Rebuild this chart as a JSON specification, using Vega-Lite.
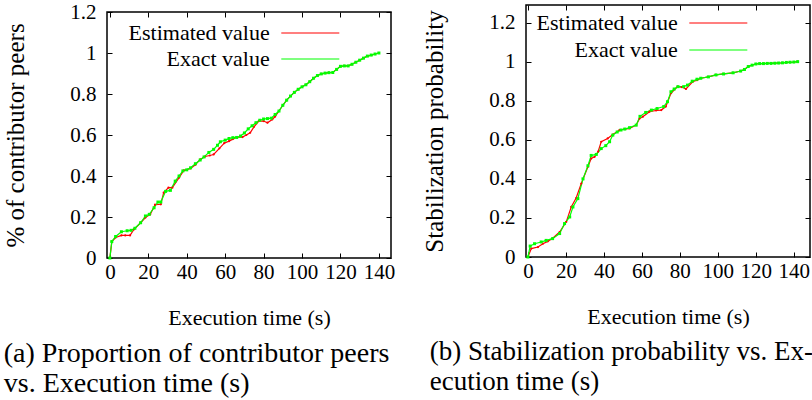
{
  "$schema": "https://vega.github.io/schema/vega-lite/v6.json",
  "background": "white",
  "padding": {"left": 3, "top": 0, "right": 0, "bottom": 0},
  "config": {
    "font": "Liberation Serif",
    "view": {"stroke": "black", "strokeWidth": 1.5},
    "axis": {
      "grid": false, "domain": false, "tickColor": "black", "tickSize": -5, "tickWidth": 1,
      "labelFontSize": 21, "labelColor": "black", "labelFont": "Liberation Serif",
      "titleFont": "Liberation Serif", "titleFontWeight": "normal", "titleColor": "black"
    },
    "axisX": {"titleFontSize": 22, "labelPadding": 8, "titlePadding": 25},
    "axisY": {"titleFontSize": 25, "labelPadding": 16, "titlePadding": 41},
    "legend": {"labelFont": "Liberation Serif", "labelColor": "black"},
    "title": {"font": "Liberation Serif"},
    "concat": {"spacing": 25}
  },
  "datasets": {
    "a": [
      {"s":"Estimated value","t":0,"v":0},{"s":"Estimated value","t":1,"v":0.08},{"s":"Estimated value","t":3,"v":0.1},{"s":"Estimated value","t":6,"v":0.11},{"s":"Estimated value","t":8,"v":0.11},{"s":"Estimated value","t":10.5,"v":0.11},{"s":"Estimated value","t":12.5,"v":0.139},{"s":"Estimated value","t":16,"v":0.172},{"s":"Estimated value","t":18.5,"v":0.197},{"s":"Estimated value","t":21,"v":0.213},{"s":"Estimated value","t":23.5,"v":0.26},{"s":"Estimated value","t":26.5,"v":0.262},{"s":"Estimated value","t":28,"v":0.319},{"s":"Estimated value","t":30.5,"v":0.343},{"s":"Estimated value","t":32.5,"v":0.343},{"s":"Estimated value","t":36,"v":0.392},{"s":"Estimated value","t":38.5,"v":0.427},{"s":"Estimated value","t":42,"v":0.437},{"s":"Estimated value","t":44.5,"v":0.455},{"s":"Estimated value","t":47,"v":0.481},{"s":"Estimated value","t":49.5,"v":0.495},{"s":"Estimated value","t":52,"v":0.5},{"s":"Estimated value","t":54,"v":0.505},{"s":"Estimated value","t":57,"v":0.535},{"s":"Estimated value","t":59.5,"v":0.56},{"s":"Estimated value","t":62,"v":0.57},{"s":"Estimated value","t":64,"v":0.58},{"s":"Estimated value","t":66,"v":0.59},{"s":"Estimated value","t":69,"v":0.59},{"s":"Estimated value","t":71,"v":0.6},{"s":"Estimated value","t":73,"v":0.611},{"s":"Estimated value","t":75,"v":0.64},{"s":"Estimated value","t":77.5,"v":0.668},{"s":"Estimated value","t":80,"v":0.668},{"s":"Estimated value","t":82,"v":0.66},{"s":"Estimated value","t":84.5,"v":0.676},{"s":"Estimated value","t":86,"v":0.69},{"s":"Estimated value","t":88,"v":0.717},{"s":"Estimated value","t":90,"v":0.745},{"s":"Estimated value","t":92,"v":0.77},{"s":"Estimated value","t":94,"v":0.79},{"s":"Estimated value","t":96,"v":0.808},{"s":"Estimated value","t":98,"v":0.823},{"s":"Estimated value","t":100,"v":0.835},{"s":"Estimated value","t":102,"v":0.845},{"s":"Estimated value","t":104,"v":0.86},{"s":"Estimated value","t":106,"v":0.877},{"s":"Estimated value","t":108,"v":0.89},{"s":"Estimated value","t":110,"v":0.898},{"s":"Estimated value","t":112,"v":0.902},{"s":"Estimated value","t":114,"v":0.904},{"s":"Estimated value","t":116,"v":0.905},{"s":"Estimated value","t":118,"v":0.92},{"s":"Estimated value","t":120,"v":0.935},{"s":"Estimated value","t":122,"v":0.937},{"s":"Estimated value","t":124,"v":0.937},{"s":"Estimated value","t":126,"v":0.945},{"s":"Estimated value","t":128,"v":0.955},{"s":"Estimated value","t":130,"v":0.965},{"s":"Estimated value","t":132,"v":0.975},{"s":"Estimated value","t":134,"v":0.985},{"s":"Estimated value","t":136,"v":0.99},{"s":"Estimated value","t":138,"v":0.995},{"s":"Estimated value","t":140,"v":1.0},
      {"s":"Exact value","t":0,"v":0},{"s":"Exact value","t":1,"v":0.08},{"s":"Exact value","t":3,"v":0.105},{"s":"Exact value","t":6,"v":0.128},{"s":"Exact value","t":9,"v":0.133},{"s":"Exact value","t":11,"v":0.135},{"s":"Exact value","t":13,"v":0.145},{"s":"Exact value","t":16,"v":0.172},{"s":"Exact value","t":18.5,"v":0.205},{"s":"Exact value","t":20.5,"v":0.213},{"s":"Exact value","t":23,"v":0.245},{"s":"Exact value","t":25,"v":0.273},{"s":"Exact value","t":26.5,"v":0.273},{"s":"Exact value","t":29,"v":0.325},{"s":"Exact value","t":31.5,"v":0.33},{"s":"Exact value","t":34,"v":0.375},{"s":"Exact value","t":36,"v":0.4},{"s":"Exact value","t":38,"v":0.425},{"s":"Exact value","t":40,"v":0.43},{"s":"Exact value","t":42,"v":0.44},{"s":"Exact value","t":44.5,"v":0.46},{"s":"Exact value","t":47,"v":0.478},{"s":"Exact value","t":49,"v":0.493},{"s":"Exact value","t":51.5,"v":0.515},{"s":"Exact value","t":54,"v":0.53},{"s":"Exact value","t":56,"v":0.55},{"s":"Exact value","t":57.5,"v":0.567},{"s":"Exact value","t":60,"v":0.575},{"s":"Exact value","t":62,"v":0.583},{"s":"Exact value","t":64,"v":0.587},{"s":"Exact value","t":66,"v":0.588},{"s":"Exact value","t":68,"v":0.595},{"s":"Exact value","t":70,"v":0.61},{"s":"Exact value","t":72,"v":0.63},{"s":"Exact value","t":74,"v":0.645},{"s":"Exact value","t":76,"v":0.66},{"s":"Exact value","t":78,"v":0.672},{"s":"Exact value","t":80,"v":0.678},{"s":"Exact value","t":82,"v":0.68},{"s":"Exact value","t":84,"v":0.682},{"s":"Exact value","t":86,"v":0.7},{"s":"Exact value","t":88,"v":0.717},{"s":"Exact value","t":90,"v":0.745},{"s":"Exact value","t":92,"v":0.77},{"s":"Exact value","t":94,"v":0.79},{"s":"Exact value","t":96,"v":0.808},{"s":"Exact value","t":98,"v":0.823},{"s":"Exact value","t":100,"v":0.835},{"s":"Exact value","t":102,"v":0.845},{"s":"Exact value","t":104,"v":0.86},{"s":"Exact value","t":106,"v":0.877},{"s":"Exact value","t":108,"v":0.89},{"s":"Exact value","t":110,"v":0.898},{"s":"Exact value","t":112,"v":0.902},{"s":"Exact value","t":114,"v":0.904},{"s":"Exact value","t":116,"v":0.905},{"s":"Exact value","t":118,"v":0.92},{"s":"Exact value","t":120,"v":0.935},{"s":"Exact value","t":122,"v":0.937},{"s":"Exact value","t":124,"v":0.937},{"s":"Exact value","t":126,"v":0.945},{"s":"Exact value","t":128,"v":0.955},{"s":"Exact value","t":130,"v":0.965},{"s":"Exact value","t":132,"v":0.975},{"s":"Exact value","t":134,"v":0.985},{"s":"Exact value","t":136,"v":0.99},{"s":"Exact value","t":138,"v":0.995},{"s":"Exact value","t":140,"v":1.0}
    ],
    "b": [
      {"s":"Estimated value","t":0,"v":0},{"s":"Estimated value","t":1.8,"v":0.043},{"s":"Estimated value","t":5.3,"v":0.051},{"s":"Estimated value","t":7.9,"v":0.068},{"s":"Estimated value","t":10.5,"v":0.08},{"s":"Estimated value","t":13.2,"v":0.097},{"s":"Estimated value","t":16.7,"v":0.128},{"s":"Estimated value","t":20.2,"v":0.18},{"s":"Estimated value","t":22.8,"v":0.256},{"s":"Estimated value","t":25.4,"v":0.302},{"s":"Estimated value","t":28.1,"v":0.376},{"s":"Estimated value","t":31.6,"v":0.462},{"s":"Estimated value","t":33.3,"v":0.504},{"s":"Estimated value","t":35.1,"v":0.513},{"s":"Estimated value","t":37,"v":0.54},{"s":"Estimated value","t":38.6,"v":0.59},{"s":"Estimated value","t":42,"v":0.607},{"s":"Estimated value","t":44.7,"v":0.627},{"s":"Estimated value","t":48.2,"v":0.65},{"s":"Estimated value","t":51,"v":0.655},{"s":"Estimated value","t":53.5,"v":0.658},{"s":"Estimated value","t":57,"v":0.675},{"s":"Estimated value","t":58.8,"v":0.709},{"s":"Estimated value","t":60.5,"v":0.718},{"s":"Estimated value","t":64,"v":0.744},{"s":"Estimated value","t":67.5,"v":0.75},{"s":"Estimated value","t":70.2,"v":0.752},{"s":"Estimated value","t":72.6,"v":0.77},{"s":"Estimated value","t":75.3,"v":0.838},{"s":"Estimated value","t":78.8,"v":0.872},{"s":"Estimated value","t":81,"v":0.87},{"s":"Estimated value","t":83.2,"v":0.86},{"s":"Estimated value","t":86.7,"v":0.897},{"s":"Estimated value","t":89,"v":0.905},{"s":"Estimated value","t":91,"v":0.915},{"s":"Estimated value","t":95,"v":0.922},{"s":"Estimated value","t":99,"v":0.932},{"s":"Estimated value","t":103,"v":0.937},{"s":"Estimated value","t":108,"v":0.943},{"s":"Estimated value","t":112,"v":0.952},{"s":"Estimated value","t":114,"v":0.96},{"s":"Estimated value","t":116,"v":0.975},{"s":"Estimated value","t":118,"v":0.982},{"s":"Estimated value","t":120,"v":0.988},{"s":"Estimated value","t":122,"v":0.99},{"s":"Estimated value","t":124,"v":0.99},{"s":"Estimated value","t":126,"v":0.991},{"s":"Estimated value","t":128,"v":0.991},{"s":"Estimated value","t":130,"v":0.992},{"s":"Estimated value","t":132,"v":0.993},{"s":"Estimated value","t":134,"v":0.994},{"s":"Estimated value","t":136,"v":0.996},{"s":"Estimated value","t":138,"v":0.997},{"s":"Estimated value","t":140,"v":0.998},{"s":"Estimated value","t":142,"v":1.0},
      {"s":"Exact value","t":0,"v":0},{"s":"Exact value","t":1.2,"v":0.056},{"s":"Exact value","t":3.5,"v":0.068},{"s":"Exact value","t":7,"v":0.077},{"s":"Exact value","t":9.6,"v":0.085},{"s":"Exact value","t":13,"v":0.094},{"s":"Exact value","t":16.7,"v":0.12},{"s":"Exact value","t":19.3,"v":0.171},{"s":"Exact value","t":22,"v":0.205},{"s":"Exact value","t":23.7,"v":0.256},{"s":"Exact value","t":26.3,"v":0.299},{"s":"Exact value","t":29,"v":0.4},{"s":"Exact value","t":31.6,"v":0.467},{"s":"Exact value","t":33.3,"v":0.52},{"s":"Exact value","t":36,"v":0.525},{"s":"Exact value","t":38.6,"v":0.555},{"s":"Exact value","t":41,"v":0.57},{"s":"Exact value","t":43,"v":0.59},{"s":"Exact value","t":44.7,"v":0.624},{"s":"Exact value","t":47,"v":0.64},{"s":"Exact value","t":49,"v":0.65},{"s":"Exact value","t":51,"v":0.655},{"s":"Exact value","t":53.5,"v":0.662},{"s":"Exact value","t":57,"v":0.675},{"s":"Exact value","t":59,"v":0.72},{"s":"Exact value","t":62,"v":0.74},{"s":"Exact value","t":65,"v":0.752},{"s":"Exact value","t":68,"v":0.76},{"s":"Exact value","t":71.5,"v":0.77},{"s":"Exact value","t":73.5,"v":0.795},{"s":"Exact value","t":75.3,"v":0.846},{"s":"Exact value","t":77,"v":0.86},{"s":"Exact value","t":79,"v":0.872},{"s":"Exact value","t":82,"v":0.872},{"s":"Exact value","t":84,"v":0.88},{"s":"Exact value","t":86.5,"v":0.9},{"s":"Exact value","t":89,"v":0.91},{"s":"Exact value","t":91,"v":0.915},{"s":"Exact value","t":95,"v":0.922},{"s":"Exact value","t":99,"v":0.932},{"s":"Exact value","t":103,"v":0.937},{"s":"Exact value","t":108,"v":0.943},{"s":"Exact value","t":112,"v":0.952},{"s":"Exact value","t":114,"v":0.96},{"s":"Exact value","t":116,"v":0.975},{"s":"Exact value","t":118,"v":0.982},{"s":"Exact value","t":120,"v":0.988},{"s":"Exact value","t":122,"v":0.99},{"s":"Exact value","t":124,"v":0.99},{"s":"Exact value","t":126,"v":0.991},{"s":"Exact value","t":128,"v":0.991},{"s":"Exact value","t":130,"v":0.992},{"s":"Exact value","t":132,"v":0.993},{"s":"Exact value","t":134,"v":0.994},{"s":"Exact value","t":136,"v":0.996},{"s":"Exact value","t":138,"v":0.997},{"s":"Exact value","t":140,"v":0.998},{"s":"Exact value","t":142,"v":1.0}
    ]
  },
  "hconcat": [
    {
      "spacing": -6,
      "vconcat": [
        {
          "width": 284, "height": 1,
          "data": {"values": []},
          "mark": {"type": "point"},
          "encoding": {},
          "view": {"stroke": null}
        },
        {
          "width": 284, "height": 246,
          "data": {"name": "a"},
          "title": {"text": ["(a) Proportion of contributor peers", "vs. Execution time (s)"], "orient": "bottom", "anchor": "start", "frame": "bounds", "font": "Liberation Serif", "fontSize": 28, "fontWeight": "normal", "color": "black", "lineHeight": 30, "offset": 12},
          "layer": [
            {
              "mark": {"type": "line", "strokeWidth": 1.2},
              "encoding": {
                "x": {"field": "t", "type": "quantitative", "scale": {"domain": [-1.5, 146.3], "nice": false, "zero": false}, "axis": {"values": [0, 20, 40, 60, 80, 100, 120, 140], "title": "Execution time (s)"}},
                "y": {"field": "v", "type": "quantitative", "scale": {"domain": [0, 1.2], "nice": false}, "axis": {"values": [0, 0.2, 0.4, 0.6, 0.8, 1, 1.2], "format": "~g", "title": "% of contributor peers"}},
                "color": {"field": "s", "type": "nominal", "scale": {"domain": ["Estimated value", "Exact value"], "range": ["#ff0000", "#00ff00"]},
                  "legend": {"orient": "none", "legendX": 10, "legendY": 17, "title": null, "labelFontSize": 22, "labelAlign": "right", "labelOffset": -51.6, "symbolOffset": 182.3, "symbolType": "M -3 0 L 3 0", "symbolSize": 374, "symbolStrokeWidth": 1.2, "rowPadding": 4, "padding": 0, "labelLimit": 300}}
              }
            },
            {
              "transform": [{"filter": "datum.s == 'Estimated value'"}],
              "mark": {"type": "point", "filled": true, "opacity": 1, "color": "#ff0000", "shape": "circle", "size": 5},
              "encoding": {
                "x": {"field": "t", "type": "quantitative", "axis": {"orient": "top", "values": [0, 20, 40, 60, 80, 100, 120, 140], "labels": false, "title": null, "minExtent": 0, "maxExtent": 0}},
                "y": {"field": "v", "type": "quantitative", "axis": {"orient": "right", "values": [0, 0.2, 0.4, 0.6, 0.8, 1, 1.2], "labels": false, "title": null, "minExtent": 0, "maxExtent": 0}}
              }
            },
            {
              "transform": [{"filter": "datum.s == 'Exact value'"}],
              "mark": {"type": "point", "filled": true, "opacity": 1, "color": "#00ff00", "shape": "square", "size": 9},
              "encoding": {
                "x": {"field": "t", "type": "quantitative", "axis": null},
                "y": {"field": "v", "type": "quantitative", "axis": null}
              }
            }
          ],
          "resolve": {"axis": {"x": "independent", "y": "independent"}}
        }
      ]
    },
    {
      "width": 284, "height": 252,
      "data": {"name": "b"},
      "title": {"text": ["(b) Stabilization probability vs. Ex-", "ecution time (s)"], "orient": "bottom", "anchor": "start", "frame": "bounds", "font": "Liberation Serif", "fontSize": 27, "fontWeight": "normal", "color": "black", "lineHeight": 30, "offset": 12, "dx": 7},
      "layer": [
        {
          "mark": {"type": "line", "strokeWidth": 1.2},
          "encoding": {
            "x": {"field": "t", "type": "quantitative", "scale": {"domain": [-1, 148.5], "nice": false, "zero": false}, "axis": {"values": [0, 20, 40, 60, 80, 100, 120, 140], "title": "Execution time (s)"}},
            "y": {"field": "v", "type": "quantitative", "scale": {"domain": [0, 1.29], "nice": false}, "axis": {"values": [0, 0.2, 0.4, 0.6, 0.8, 1, 1.2], "format": "~g", "title": "Stabilization probability"}},
            "color": {"field": "s", "type": "nominal", "scale": {"domain": ["Estimated value", "Exact value"], "range": ["#ff0000", "#00ff00"]},
              "legend": {"orient": "none", "legendX": -1, "legendY": 7, "title": null, "labelFontSize": 22, "labelAlign": "right", "labelOffset": -51.6, "symbolOffset": 182.3, "symbolType": "M -3 0 L 3 0", "symbolSize": 374, "symbolStrokeWidth": 1.2, "rowPadding": 5, "padding": 0, "labelLimit": 300}}
          }
        },
        {
          "transform": [{"filter": "datum.s == 'Estimated value'"}],
          "mark": {"type": "point", "filled": true, "opacity": 1, "color": "#ff0000", "shape": "circle", "size": 5},
          "encoding": {
            "x": {"field": "t", "type": "quantitative", "axis": {"orient": "top", "values": [0, 20, 40, 60, 80, 100, 120, 140], "labels": false, "title": null, "minExtent": 0, "maxExtent": 0}},
            "y": {"field": "v", "type": "quantitative", "axis": {"orient": "right", "values": [0, 0.2, 0.4, 0.6, 0.8, 1, 1.2], "labels": false, "title": null, "minExtent": 0, "maxExtent": 0}}
          }
        },
        {
          "transform": [{"filter": "datum.s == 'Exact value'"}],
          "mark": {"type": "point", "filled": true, "opacity": 1, "color": "#00ff00", "shape": "square", "size": 9},
          "encoding": {
            "x": {"field": "t", "type": "quantitative", "axis": null},
            "y": {"field": "v", "type": "quantitative", "axis": null}
          }
        }
      ],
      "resolve": {"axis": {"x": "independent", "y": "independent"}}
    }
  ],
  "resolve": {"scale": {"color": "independent"}, "legend": {"color": "independent"}}
}
